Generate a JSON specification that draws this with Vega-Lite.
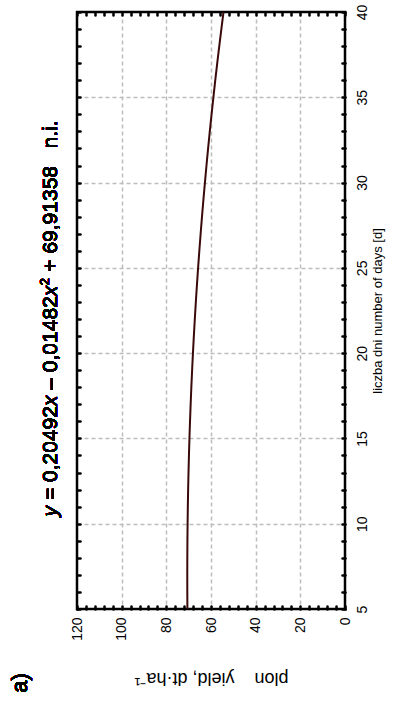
{
  "$schema": "https://vega.github.io/schema/vega-lite/v6.json",
  "width": 268,
  "height": 597,
  "autosize": {"type": "none"},
  "padding": {"left": 77, "top": 12, "right": 48, "bottom": 93},
  "background": "white",
  "config": {
    "font": "Liberation Sans",
    "view": {"stroke": "black", "strokeWidth": 2.5},
    "axis": {"domain": false, "labelColor": "black", "titleColor": "black", "titleFontWeight": "normal"},
    "text": {"fontWeight": "normal", "color": "black"}
  },
  "data": {
    "values": [
      {"days": 5, "yield": 70.568}, {"days": 6, "yield": 70.610}, {"days": 7, "yield": 70.622},
      {"days": 8, "yield": 70.605}, {"days": 9, "yield": 70.557}, {"days": 10, "yield": 70.481},
      {"days": 11, "yield": 70.375}, {"days": 12, "yield": 70.239}, {"days": 13, "yield": 70.073},
      {"days": 14, "yield": 69.878}, {"days": 15, "yield": 69.653}, {"days": 16, "yield": 69.398},
      {"days": 17, "yield": 69.114}, {"days": 18, "yield": 68.801}, {"days": 19, "yield": 68.457},
      {"days": 20, "yield": 68.084}, {"days": 21, "yield": 67.681}, {"days": 22, "yield": 67.249},
      {"days": 23, "yield": 66.787}, {"days": 24, "yield": 66.295}, {"days": 25, "yield": 65.774},
      {"days": 26, "yield": 65.223}, {"days": 27, "yield": 64.643}, {"days": 28, "yield": 64.033},
      {"days": 29, "yield": 63.393}, {"days": 30, "yield": 62.723}, {"days": 31, "yield": 62.024},
      {"days": 32, "yield": 61.295}, {"days": 33, "yield": 60.537}, {"days": 34, "yield": 59.749},
      {"days": 35, "yield": 58.931}, {"days": 36, "yield": 58.084}, {"days": 37, "yield": 57.207},
      {"days": 38, "yield": 56.300}, {"days": 39, "yield": 55.364}, {"days": 40, "yield": 54.398}
    ]
  },
  "layer": [
    {
      "mark": {"type": "line", "opacity": 0},
      "encoding": {
        "x": {"field": "yield", "type": "quantitative",
          "scale": {"domain": [0, 120], "reverse": true, "nice": false, "zero": false},
          "axis": {"orient": "bottom", "values": [0, 20, 40, 60, 80, 100, 120], "labelAngle": 270,
            "labelFontSize": 14, "labelPadding": 8, "ticks": false,
            "grid": true, "gridColor": "#bdbdbd", "gridDash": [4, 3], "gridWidth": 1.5,
            "gridOpacity": {"condition": {"test": "datum.value == 0 || datum.value == 120", "value": 0}, "value": 1},
            "title": "plon\u00a0\u00a0\u00a0\u00a0yield, dt·ha⁻¹", "titleAngle": 180, "titleFontSize": 18, "titlePadding": 46}},
        "y": {"field": "days", "type": "quantitative",
          "scale": {"domain": [5, 40], "nice": false, "zero": false},
          "axis": {"orient": "right", "values": [5, 10, 15, 20, 25, 30, 35, 40], "labelAngle": 270,
            "labelAlign": "center", "labelBaseline": "top",
            "labelFontSize": 14, "labelPadding": 10, "ticks": false,
            "grid": true, "gridColor": "#bdbdbd", "gridDash": [4, 3], "gridWidth": 1.5,
            "gridOpacity": {"condition": {"test": "datum.value == 5 || datum.value == 40", "value": 0}, "value": 1},
            "title": "liczba dni number of days [d]", "titleAngle": 270, "titleBaseline": "top", "titleFontSize": 13, "titlePadding": 2}},
        "order": {"field": "days", "type": "quantitative"}
      }
    },
    {
      "mark": {"type": "line", "opacity": 0},
      "encoding": {
        "x": {"field": "yield", "type": "quantitative",
          "axis": {"orient": "top", "values": [0, 4, 8, 12, 16, 20, 24, 28, 32, 36, 40, 44, 48, 52, 56, 60, 64, 68, 72, 76, 80, 84, 88, 92, 96, 100, 104, 108, 112, 116, 120],
            "labels": false, "grid": false, "ticks": true, "tickSize": -3, "tickWidth": 2.5, "tickColor": "black", "tickCap": "round", "title": null}},
        "y": {"field": "days", "type": "quantitative",
          "axis": {"orient": "left", "values": [5, 6, 7, 8, 9, 10, 11, 12, 13, 14, 15, 16, 17, 18, 19, 20, 21, 22, 23, 24, 25, 26, 27, 28, 29, 30, 31, 32, 33, 34, 35, 36, 37, 38, 39, 40],
            "labels": false, "grid": false, "ticks": true, "tickSize": -3, "tickWidth": 2.5, "tickColor": "black", "tickCap": "round", "title": null}},
        "order": {"field": "days", "type": "quantitative"}
      }
    },
    {
      "mark": {"type": "line", "opacity": 0},
      "encoding": {
        "x": {"field": "yield", "type": "quantitative",
          "axis": {"orient": "bottom", "values": [0, 4, 8, 12, 16, 20, 24, 28, 32, 36, 40, 44, 48, 52, 56, 60, 64, 68, 72, 76, 80, 84, 88, 92, 96, 100, 104, 108, 112, 116, 120],
            "labels": false, "grid": false, "ticks": true, "tickSize": -3, "tickWidth": 2.5, "tickColor": "black", "tickCap": "round", "title": null}},
        "y": {"field": "days", "type": "quantitative",
          "axis": {"orient": "right", "values": [5, 6, 7, 8, 9, 10, 11, 12, 13, 14, 15, 16, 17, 18, 19, 20, 21, 22, 23, 24, 25, 26, 27, 28, 29, 30, 31, 32, 33, 34, 35, 36, 37, 38, 39, 40],
            "labels": false, "grid": false, "ticks": true, "tickSize": -3, "tickWidth": 2.5, "tickColor": "black", "tickCap": "round", "title": null}},
        "order": {"field": "days", "type": "quantitative"}
      }
    },
    {
      "mark": {"type": "line", "color": "#3a0a0a", "strokeWidth": 2},
      "encoding": {
        "x": {"field": "yield", "type": "quantitative", "axis": null},
        "y": {"field": "days", "type": "quantitative", "axis": null},
        "order": {"field": "days", "type": "quantitative"}
      }
    },
    {
      "mark": {"type": "text", "text": "y", "angle": 270, "align": "left", "baseline": "alphabetic", "dx": 0, "fontSize": 21, "fontStyle": "italic"},
      "encoding": {"x": {"datum": 129, "type": "quantitative", "axis": null}, "y": {"datum": 10.43, "type": "quantitative", "axis": null}}
    },
    {
      "mark": {"type": "text", "text": "= 0,20492", "angle": 270, "align": "left", "baseline": "alphabetic", "dx": 16.3, "fontSize": 21},
      "encoding": {"x": {"datum": 129, "type": "quantitative", "axis": null}, "y": {"datum": 10.43, "type": "quantitative", "axis": null}}
    },
    {
      "mark": {"type": "text", "text": "x", "angle": 270, "align": "left", "baseline": "alphabetic", "dx": 110.4, "fontSize": 21, "fontStyle": "italic"},
      "encoding": {"x": {"datum": 129, "type": "quantitative", "axis": null}, "y": {"datum": 10.43, "type": "quantitative", "axis": null}}
    },
    {
      "mark": {"type": "text", "text": "– 0,01482", "angle": 270, "align": "left", "baseline": "alphabetic", "dx": 126.7, "fontSize": 21},
      "encoding": {"x": {"datum": 129, "type": "quantitative", "axis": null}, "y": {"datum": 10.43, "type": "quantitative", "axis": null}}
    },
    {
      "mark": {"type": "text", "text": "x", "angle": 270, "align": "left", "baseline": "alphabetic", "dx": 220.1, "fontSize": 21, "fontStyle": "italic"},
      "encoding": {"x": {"datum": 129, "type": "quantitative", "axis": null}, "y": {"datum": 10.43, "type": "quantitative", "axis": null}}
    },
    {
      "mark": {"type": "text", "text": "2", "angle": 270, "align": "left", "baseline": "alphabetic", "dx": 231.2, "dy": -8, "fontSize": 13},
      "encoding": {"x": {"datum": 129, "type": "quantitative", "axis": null}, "y": {"datum": 10.43, "type": "quantitative", "axis": null}}
    },
    {
      "mark": {"type": "text", "text": "+ 69,91358", "angle": 270, "align": "left", "baseline": "alphabetic", "dx": 244.7, "fontSize": 21},
      "encoding": {"x": {"datum": 129, "type": "quantitative", "axis": null}, "y": {"datum": 10.43, "type": "quantitative", "axis": null}}
    },
    {
      "mark": {"type": "text", "text": "n.i.", "angle": 270, "align": "left", "baseline": "alphabetic", "dx": 367.9, "fontSize": 21},
      "encoding": {"x": {"datum": 129, "type": "quantitative", "axis": null}, "y": {"datum": 10.43, "type": "quantitative", "axis": null}}
    },
    {
      "mark": {"type": "text", "text": "a)", "angle": 270, "align": "center", "baseline": "middle", "fontSize": 22},
      "encoding": {"x": {"datum": 145.5, "type": "quantitative", "axis": null}, "y": {"datum": 0.66, "type": "quantitative", "axis": null}}
    }
  ],
  "resolve": {"axis": {"x": "independent", "y": "independent"}}
}
